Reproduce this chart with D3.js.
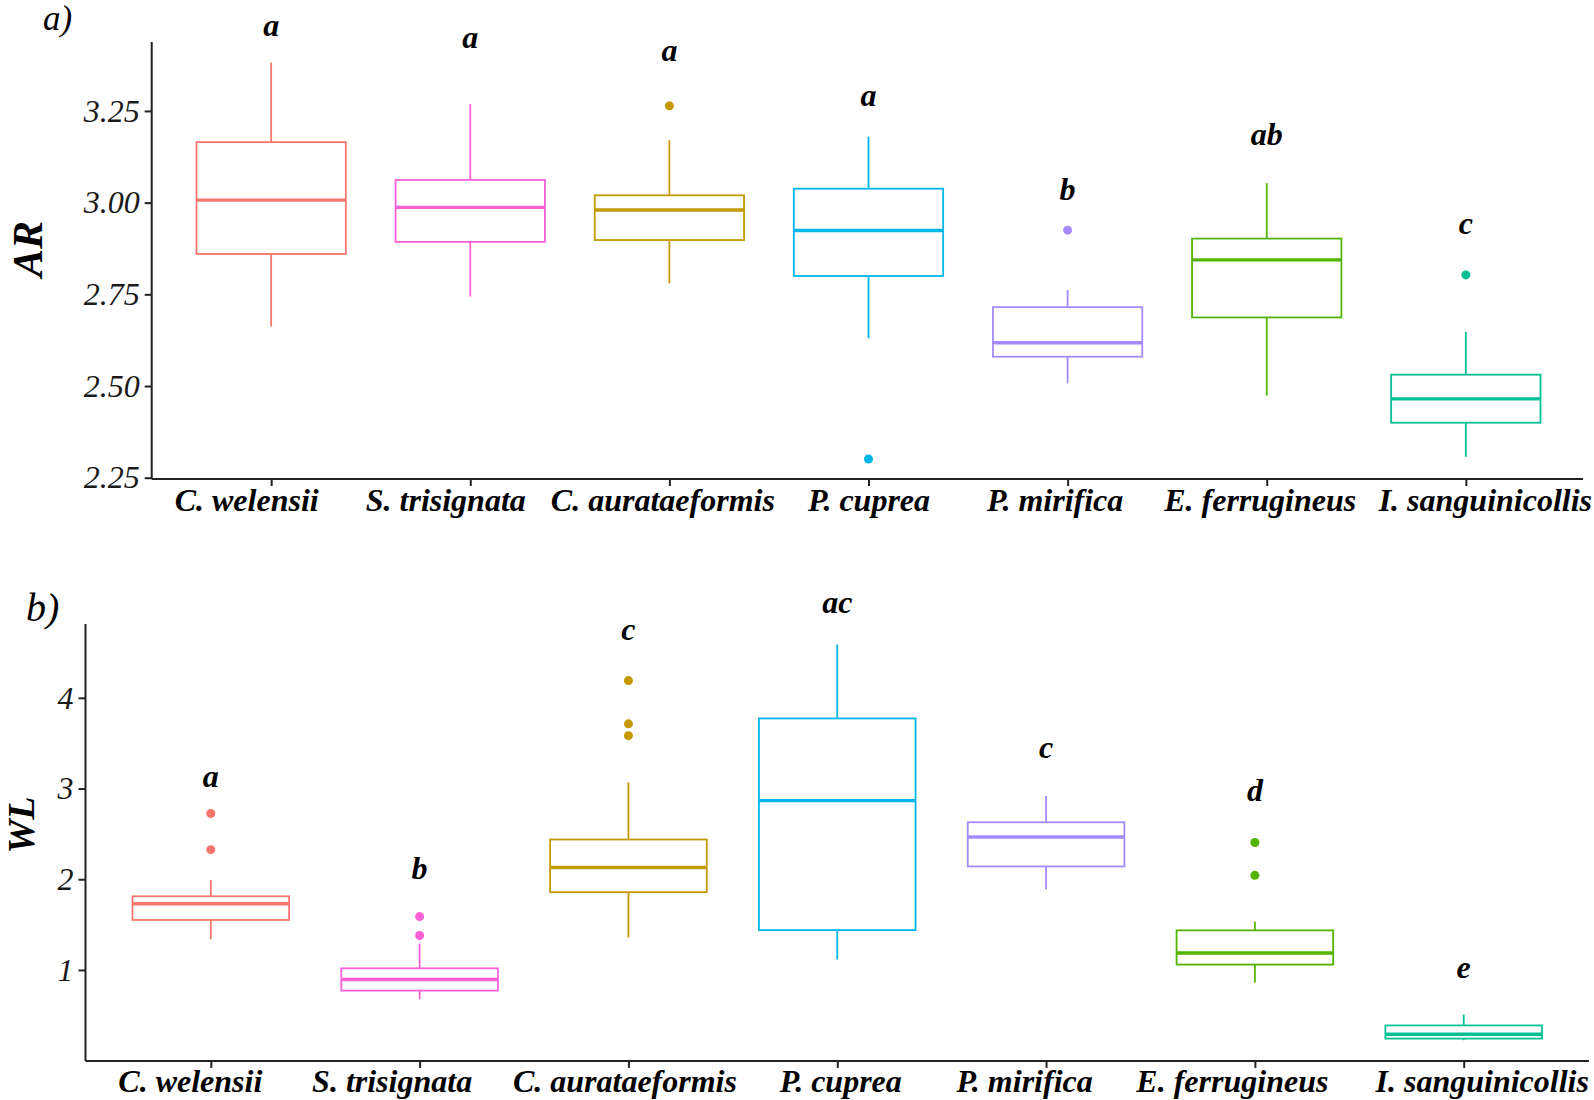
<!DOCTYPE html>
<html><head><meta charset="utf-8">
<script src="https://cdn.jsdelivr.net/npm/d3@7"></script>
<style>body{margin:0;background:#fff}</style>
</head><body>
<svg id="chart" width="1594" height="1100"></svg>
<script>
const species = ["C. welensii","S. trisignata","C. aurataeformis","P. cuprea","P. mirifica","E. ferrugineus","I. sanguinicollis"];
const speciesColors = ["#F8766D","#FB61D7","#C49A00","#00B6EB","#A58AFF","#53B400","#00C094"];

// Panel a) AR
const arLower   = [2.662, 2.744, 2.780, 2.630, 2.507, 2.474, 2.307];
const arQ1      = [2.860, 2.893, 2.898, 2.800, 2.580, 2.687, 2.400];
const arMedian  = [3.007, 2.987, 2.980, 2.924, 2.618, 2.844, 2.465];
const arQ3      = [3.165, 3.062, 3.020, 3.038, 2.715, 2.902, 2.531];
const arUpper   = [3.382, 3.269, 3.170, 3.180, 2.762, 3.053, 2.648];
const arOutliers = [[], [], [3.264], [2.301], [2.925], [], [2.803]];
const arLetters  = ["a","a","a","a","b","ab","c"];
const arLetterPos = [3.453, 3.423, 3.387, 3.264, 3.007, 3.157, 2.915];
const arTicks = [2.25, 2.50, 2.75, 3.00, 3.25];
const arTickLabels = ["2.25","2.50","2.75","3.00","3.25"];

// Panel b) WL
const wlLower   = [1.339, 0.676, 1.357, 1.115, 1.887, 0.861, 0.225];
const wlQ1      = [1.551, 0.772, 1.857, 1.439, 2.141, 1.059, 0.243];
const wlMedian  = [1.730, 0.895, 2.129, 2.867, 2.465, 1.186, 0.291];
const wlQ3      = [1.812, 1.018, 2.438, 3.773, 2.628, 1.436, 0.388];
const wlUpper   = [1.991, 1.291, 3.068, 4.589, 2.919, 1.532, 0.508];
const wlOutliers = [[2.725, 2.326], [1.588, 1.380], [4.190, 3.713, 3.583], [], [], [2.405, 2.043], []];
const wlLetters  = ["a","b","c","ac","c","d","e"];
const wlLetterPos = [3.016, 1.998, 4.637, 4.931, 3.333, 2.867, 0.906];
const wlTicks = [1, 2, 3, 4];
const wlTickLabels = ["1","2","3","4"];

const svg = d3.select("#chart");
const serif = "'Liberation Serif', 'Times New Roman', serif";

function drawPanel(cfg) {
  const g = svg.append("g");
  const x = d3.scalePoint().domain(species).range([cfg.left, cfg.right]).padding(0.6);
  const y = d3.scaleLinear().domain(cfg.domain).range([cfg.bottom, cfg.top]);
  const bw = x.step() * 0.75;

  const yAxis = d3.axisLeft(y).tickValues(cfg.ticks).tickFormat((d, i) => cfg.tickLabels[i]).tickSize(7).tickPadding(5);
  const ya = g.append("g").attr("transform", `translate(${cfg.left},0)`).call(yAxis);
  ya.select(".domain").attr("stroke", "#222").attr("stroke-width", 2).attr("d", `M0,${cfg.top}V${cfg.bottom}`);
  ya.selectAll(".tick line").attr("stroke", "#222").attr("stroke-width", 2);
  ya.selectAll(".tick text").attr("font-family", serif).attr("font-style", "italic").attr("font-size", 32).attr("fill", "#1a1a1a");

  const xAxis = d3.axisBottom(x).tickSize(7).tickPadding(6);
  const xa = g.append("g").attr("transform", `translate(0,${cfg.bottom})`).call(xAxis);
  xa.select(".domain").attr("stroke", "#222").attr("stroke-width", 2).attr("d", `M${cfg.left},0H${cfg.axisEnd}`);
  xa.selectAll(".tick line").attr("stroke", "#222").attr("stroke-width", 2);
  xa.selectAll(".tick text").attr("font-family", serif).attr("font-style", "italic").attr("font-weight", "bold")
    .attr("font-size", 32).attr("fill", "#000").attr("dy", null).attr("y", cfg.xLabelDy)
    .attr("x", (d, i) => cfg.labelShift[i]);

  const data = species.map((s, i) => ({s, i, lo: cfg.lower[i], q1: cfg.q1[i], med: cfg.median[i], q3: cfg.q3[i], hi: cfg.upper[i], out: cfg.outliers[i], col: speciesColors[i]}));
  const box = g.append("g").selectAll("g").data(data).join("g");
  box.append("line").attr("x1", d => x(d.s)).attr("x2", d => x(d.s)).attr("y1", d => y(d.hi)).attr("y2", d => y(d.q3))
    .attr("stroke", d => d.col).attr("stroke-width", 1.8);
  box.append("line").attr("x1", d => x(d.s)).attr("x2", d => x(d.s)).attr("y1", d => y(d.q1)).attr("y2", d => y(d.lo))
    .attr("stroke", d => d.col).attr("stroke-width", 1.8);
  box.append("rect").attr("x", d => x(d.s) - bw / 2).attr("width", bw).attr("y", d => y(d.q3)).attr("height", d => y(d.q1) - y(d.q3))
    .attr("fill", "#fff").attr("stroke", d => d.col).attr("stroke-width", 1.8);
  box.append("line").attr("x1", d => x(d.s) - bw / 2).attr("x2", d => x(d.s) + bw / 2).attr("y1", d => y(d.med)).attr("y2", d => y(d.med))
    .attr("stroke", d => d.col).attr("stroke-width", 3.4);
  box.selectAll("circle").data(d => d.out.map(v => ({v, d}))).join("circle")
    .attr("cx", o => x(o.d.s)).attr("cy", o => y(o.v)).attr("r", 4.5).attr("fill", o => o.d.col);

  g.append("g").selectAll("text").data(species).join("text")
    .attr("x", d => x(d)).attr("y", (d, i) => y(cfg.letterPos[i]))
    .attr("text-anchor", "middle").attr("font-family", serif).attr("font-style", "italic").attr("font-weight", "bold")
    .attr("font-size", 32).attr("fill", "#000").text((d, i) => cfg.letters[i]);

  g.append("text").attr("transform", `translate(${cfg.titleX},${cfg.titleY}) rotate(-90)`)
    .attr("text-anchor", "middle").attr("font-family", serif).attr("font-style", "italic").attr("font-weight", "bold")
    .attr("font-size", cfg.titleSize).attr("fill", "#000").text(cfg.title);

  g.append("text").attr("x", cfg.tagX).attr("y", cfg.tagY).attr("font-family", serif).attr("font-style", "italic")
    .attr("font-size", cfg.tagSize).attr("fill", "#000").text(cfg.tag);
}

drawPanel({
  left: 151.7, right: 1585.3, axisEnd: 1583, top: 42, bottom: 479, domain: [2.2465, 3.438],
  ticks: arTicks, tickLabels: arTickLabels,
  lower: arLower, q1: arQ1, median: arMedian, q3: arQ3, upper: arUpper, outliers: arOutliers,
  letters: arLetters, letterPos: arLetterPos, labelShift: [-25, -25, -7, 0, -13, -7, 19],
  title: "AR", titleX: 42, titleY: 249, titleSize: 42, tag: "a)", tagX: 43, tagY: 30, tagSize: 35, xLabelDy: 32
});

drawPanel({
  left: 85.5, right: 1589, axisEnd: 1589, top: 624.1, bottom: 1060.9, domain: [-0.003, 4.813],
  ticks: wlTicks, tickLabels: wlTickLabels,
  lower: wlLower, q1: wlQ1, median: wlMedian, q3: wlQ3, upper: wlUpper, outliers: wlOutliers,
  letters: wlLetters, letterPos: wlLetterPos, labelShift: [-21, -28, -4, 3, -22, -23, 18],
  title: "WL", titleX: 34, titleY: 825, titleSize: 38, tag: "b)", tagX: 26, tagY: 621, tagSize: 40, xLabelDy: 31
});
</script>
</body></html>
